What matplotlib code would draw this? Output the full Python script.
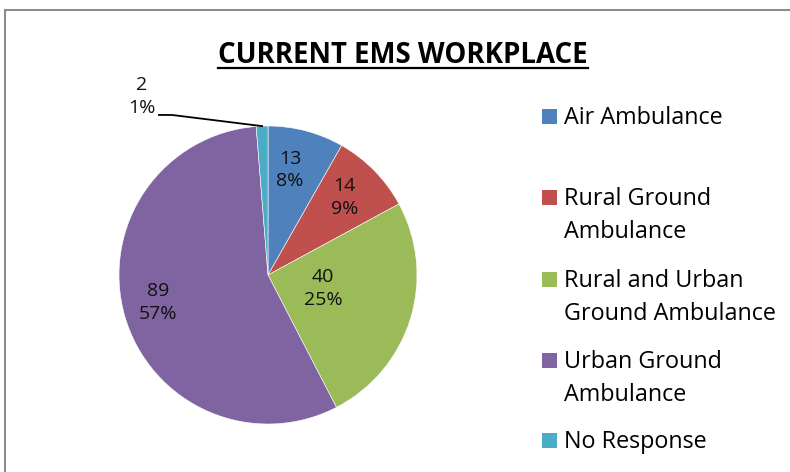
import numpy as np
import matplotlib
matplotlib.use("Agg")
import matplotlib.pyplot as plt
from matplotlib.patches import Rectangle
from matplotlib.lines import Line2D

categories = ["Air Ambulance", "Rural Ground\nAmbulance", "Rural and Urban\nGround Ambulance",
              "Urban Ground\nAmbulance", "No Response"]
values = [13, 14, 40, 89, 2]
pct_labels = ["8%", "9%", "25%", "57%", "1%"]
colors = ["#4F81BD", "#C0504D", "#9BBB59", "#8064A2", "#4BACC6"]
title = "CURRENT EMS WORKPLACE"

plt.rcParams['font.family'] = ['Open Sans', 'DejaVu Sans']

W, H = 790, 472
fig = plt.figure(figsize=(W / 100, H / 100), dpi=100)

def fx(x): return x / W
def fy(y): return 1 - y / H

# outer frame
fig.add_artist(Rectangle((fx(5), fy(480)), fx(800), 470 / H,
                         transform=fig.transFigure, fill=False,
                         edgecolor="#8c8c8c", linewidth=1.5))

# pie axes
cx, cy, R = 268, 275, 149
ax = fig.add_axes([fx(cx - R), fy(cy + R), 2 * R / W, 2 * R / H])
wedges, _ = ax.pie(values, colors=colors, startangle=90, counterclock=False,
                   radius=1.0, wedgeprops=dict(edgecolor="white", linewidth=0.4))
ax.set_aspect('equal')
ax.set_xlim(-1, 1)
ax.set_ylim(-1, 1)

label_dist = [0.72, 0.73, 0.38, 0.76]
angle_off = [3, 1, 3, -2]
for i in range(4):
    w = wedges[i]
    mid = np.deg2rad((w.theta1 + w.theta2) / 2 + angle_off[i])
    ax.text(label_dist[i] * np.cos(mid), label_dist[i] * np.sin(mid),
            f"{values[i]}\n{pct_labels[i]}", ha="center", va="center",
            fontsize=14, color="#111111", linespacing=1.35)

# No Response outside label with leader line
w = wedges[4]
mid = np.deg2rad((w.theta1 + w.theta2) / 2)
ex, ey = np.cos(mid), np.sin(mid)
ax.add_line(Line2D([-0.732, -0.644, ex], [1.074, 1.074, ey], color="black",
                   linewidth=1.3, clip_on=False))
ax.text(-0.846, 1.201, f"{values[4]}\n{pct_labels[4]}", ha="center", va="center",
        fontsize=14, color="#111111", linespacing=1.35, clip_on=False)

# title
t = fig.text(fx(403), fy(63), title, ha="center", va="baseline",
             fontsize=19.9, fontweight="bold", color="black")
fig.canvas.draw()
bb = t.get_window_extent(renderer=fig.canvas.get_renderer())
fig.add_artist(Line2D([bb.x0 / W, bb.x1 / W], [fy(68), fy(68)],
                      transform=fig.transFigure, color="black", linewidth=1.6))

# legend
first_baselines = [124, 205, 287, 368, 448]
line_gap = 33
for cat, col, yb in zip(categories, colors, first_baselines):
    fig.add_artist(Rectangle((fx(542), fy(yb)), 15 / W, 15 / H,
                             transform=fig.transFigure, facecolor=col, edgecolor="none"))
    for k, line in enumerate(cat.split("\n")):
        fig.text(fx(564), fy(yb + k * line_gap), line, ha="left", va="baseline",
                 fontsize=16.8, color="black")

fig.savefig("out.png", dpi=100)
